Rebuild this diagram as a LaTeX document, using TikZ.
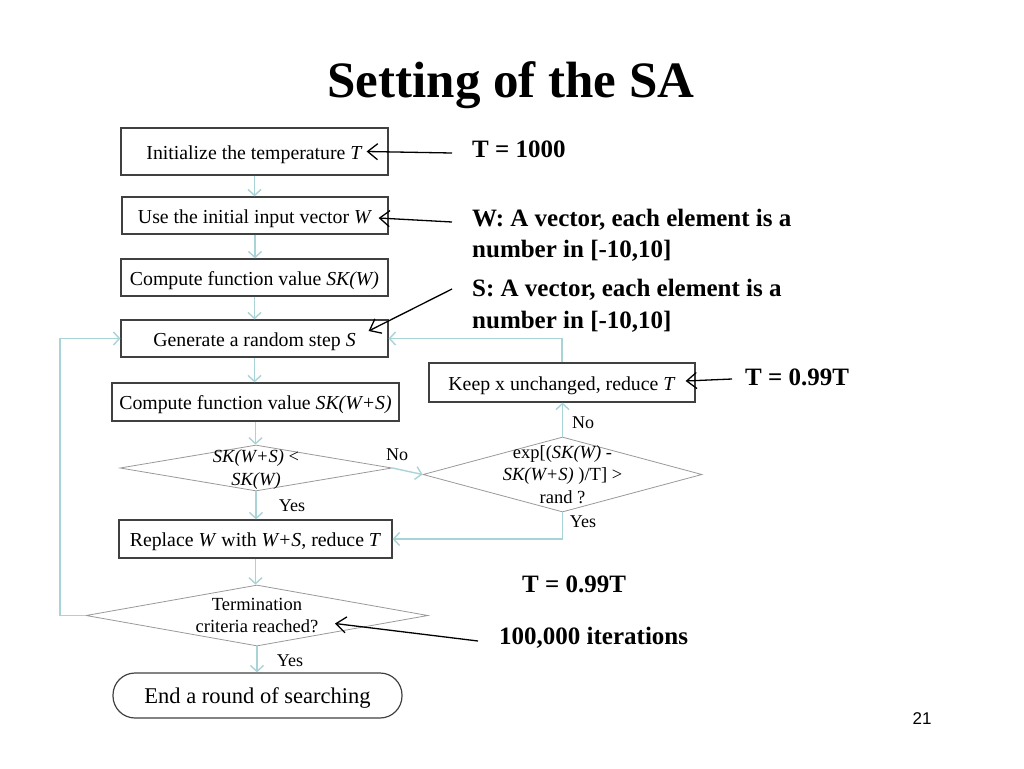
\documentclass[tikz,border=0pt]{standalone}
\usepackage{fontspec}
\setmainfont{Liberation Serif}
\newfontfamily\pagefont{Liberation Sans}
\usetikzlibrary{calc,positioning,arrows.meta,shapes}
\definecolor{flowcol}{RGB}{168,212,216}
\definecolor{boxcol}{RGB}{64,64,64}
\tikzset{st/.style={draw=boxcol,line width=1.2pt,rectangle,minimum
height=37pt,inner sep=0pt,text height=17pt,text depth=2pt,font=\fontsize{19.8}{23}\selectfont},dec/.style={draw=gray!80,line
width=0.8pt,diamond,inner sep=0pt},dectext/.style={align=center,inner sep=0pt,font=\fontsize{18.5}{22.5}\selectfont}}

\begin{document}
\begin{tikzpicture}[x=1pt,y=-1pt,flow/.style={draw=flowcol,line width=1.4pt,-{Straight Barb[length=6pt,width=13pt]}},pointer/.style={draw=black,line width=1.3pt,-{Straight Barb[length=10pt,width=16pt]}},note/.style={anchor=west,align=left,inner sep=0pt,font=\bfseries\fontsize{25}{31.5}\selectfont},lab/.style={inner sep=0pt,font=\fontsize{18}{22}\selectfont}]
			\useasboundingbox (0,0) rectangle (1024,768);
			\node[anchor=base,font=\bfseries\fontsize{51}{60}\selectfont] (title) at (511,97) {Setting of the SA};

			\node[st,minimum width=267pt,minimum height=47pt] (b1) at (254.5,151.5) {Initialize the temperature \textit{T}};
			\node[st,minimum width=266pt] (b2) at (255,215.5) {Use the initial input vector \textit{W}};
			\node[st,minimum width=267pt] (b3) at (254.5,277.5) {Compute function value \textit{SK(W)}};
			\node[st,minimum width=267pt] (b4) at (254.5,338.5) {Generate a random step \textit{S}};
			\node[st,minimum width=287pt,minimum height=38pt] (b5) at (255.5,402) {Compute function value \textit{SK(W+S)}};
			\node[dec,minimum width=272pt,minimum height=46pt] (d1) at (256,468) {};
			\node[dectext] (d1t) at ([yshift=-1.5pt]d1) {\textit{SK(W+S)} <\\\textit{SK(W)}};
			\node[st,minimum width=273pt,minimum height=38pt] (b6) at (255.5,539) {Replace \textit{W} with \textit{W+S}, reduce \textit{T}};
			\node[dec,minimum width=342pt,minimum height=61pt] (d2) at (257,615.5) {};
			\node[dectext] (d2t) at (d2) {Termination\\criteria reached?};
			\node[draw=boxcol,line width=1.2pt,rounded corners=22pt,minimum width=289pt,minimum height=45pt,text height=18pt,text depth=2pt,font=\fontsize{22.5}{26}\selectfont] (stop) at (257.5,695.5) {End a round of searching};

			\node[st,minimum width=266pt,minimum height=39pt] (keep) at (562,382.5) {Keep x unchanged, reduce \textit{T}};
			\node[dec,minimum width=279pt,minimum height=75pt] (d3) at (562.5,474.5) {};
			\node[dectext] (d3t) at (d3) {exp[(\textit{SK(W)} -\\\textit{SK(W+S)} )/T] >\\rand ?};

			\draw[flow] (b1.south) -- (b1.south |- b2.north);
			\draw[flow] (b2.south) -- (b2.south |- b3.north);
			\draw[flow] (b3.south) -- (b3.south |- b4.north);
			\draw[flow] (b4.south) -- (b4.south |- b5.north);
			\draw[flow] (b5.south) -- (b5.south |- d1.north);
			\draw[flow] (d1.south) -- (d1.south |- b6.north);
			\draw[flow] (b6.south) -- (b6.south |- d2.north);
			\draw[flow] (d2.south) -- (d2.south |- stop.north);
			\draw[flow] (d1.east) -- (d3.west);
			\draw[flow] (d3.north) -- (d3.north |- keep.south);
			\draw[flow] (d3.south) |- (b6.east);
			\draw[flow] (keep.north) |- (b4.east);
			\coordinate (loopL) at (60,615.5);
			\draw[flow] (d2.west) -- (loopL) |- (b4.west);

			\node[lab] (no1) at (397,455) {No};
			\node[lab] (yes1) at (292,506) {Yes};
			\node[lab] (no3) at (583,423) {No};
			\node[lab] (yes3) at (583,522) {Yes};
			\node[lab] (yes2) at (290,661) {Yes};

			\node[note,anchor=base west] (tT) at (472,157) {T = 1000};
			\node[note] (tW) at (472,235.5) {W: A vector, each element is a\\number in [-10,10]};
			\node[note] (tS) at (472,306) {S: A vector, each element is a\\number in [-10,10]};
			\node[note,anchor=base west] (tK) at (745,385) {T = 0.99T};
			\node[note,anchor=base west] (tR) at (522,592) {T = 0.99T};
			\node[note,anchor=base west] (tI) at (499,644) {100,000 iterations};

			\coordinate (tailT) at (452,153);
			\coordinate (tailW) at (452,222);
			\coordinate (tailS) at (452,289);
			\coordinate (tailK) at (732,379);
			\coordinate (tailI) at (478,641);
			\draw[pointer] (tailT) -- ([xshift=-22pt]b1.east);
			\draw[pointer] (tailW) -- ($(b2.east)+(-10,2.5)$);
			\draw[pointer] (tailS) -- ($(b4.east)+(-20,-7.5)$);
			\draw[pointer] (tailK) -- ($(keep.east)+(-10,-1.5)$);
			\draw[pointer] (tailI) -- ($(d2.center)+(78,8)$);

			\node[font=\pagefont\fontsize{17}{20}\selectfont] (pg) at (922,719) {21};
		\end{tikzpicture}
\end{document}
